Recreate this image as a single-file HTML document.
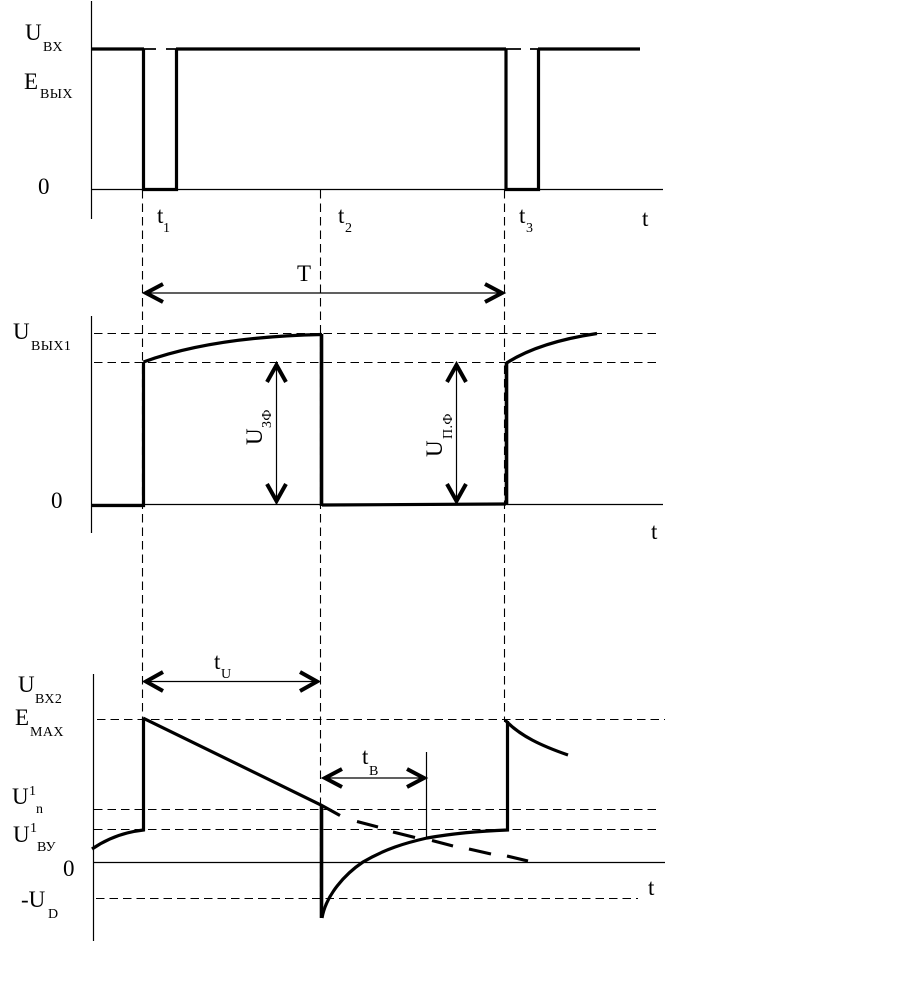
<!DOCTYPE html>
<html>
<head>
<meta charset="utf-8">
<style>
html,body{margin:0;padding:0;background:#fff;width:910px;height:1001px;overflow:hidden}
svg{display:block}
text{font-family:"Liberation Serif",serif;fill:#000}
.b{font-size:23px}
.s{font-size:14px;letter-spacing:.4px}
.ln{stroke:#000;stroke-width:1.2;fill:none}
.d{stroke:#000;stroke-width:1.1;fill:none;stroke-dasharray:8.5 5}
.th{stroke:#000;stroke-width:3.2;fill:none}
.h{stroke:#000;stroke-width:4;fill:none}
</style>
</head>
<body>
<svg width="910" height="1001" viewBox="0 0 910 1001" xmlns="http://www.w3.org/2000/svg">
<!-- axes -->
<path class="ln" d="M91.5 1V219M91 189.5H663M91.5 316V533M91 504.5H663M93.5 674V941M93 862.5H665"/>
<!-- dashed verticals -->
<path class="d" d="M142.5 190V720M320.5 190V905M504.5 190V722"/>
<!-- dashed horizontals -->
<path class="d" d="M94 333.5H661M94 362.5H661M97 719.5H665M94 809.5H661M94 829.5H661M96 898.5H638"/>
<!-- top pulse -->
<path class="th" d="M91 49H144M176 49H506M538 49H640"/>
<path stroke="#000" stroke-width="1.8" fill="none" d="M144 49H156M166 49H176M506 49H521M530 49H538"/>
<path class="th" d="M143.5 49V189.5H176.5V49M506 49V189.5H538.5V49"/>
<!-- middle waveform -->
<path class="th" d="M92 505.5H143.5V362M322 505L506 504"/>
<path class="th" d="M143.5 362C190 345 250 336 322 334.5"/>
<path stroke="#000" stroke-width="3.6" fill="none" d="M321.5 334V506M506.5 505V363"/>
<path class="th" d="M506.500 363C530 348 560 339 597 333.500"/>
<!-- bottom waveform -->
<path class="th" d="M92 849C108 838 125 832 143.500 830V718"/>
<path class="th" d="M143 718L321 805L340 815.500"/>
<path class="th" d="M357 821.500L378 827M393 832L415 837.500M432 840.500L453 846M469 849L491 854M507 856L528 861"/>
<path stroke="#000" stroke-width="3.600" fill="none" d="M321.500 806V918"/>
<path class="th" d="M322 918C326 895 345 874 363 862C385 849 405 843 427 838C450 834 480 831 507.500 830V721"/>
<path class="th" d="M505 720C520 736 542 746 568 755"/>
<!-- T arrow -->
<path class="ln" d="M146 293H501"/>
<path class="h" d="M163 284L146 293L163 302M485 284L502 293L485 302"/>
<!-- Uзф arrow -->
<path class="ln" d="M276.500 364V502"/>
<path class="h" d="M267 382L276.500 365L286 382M267 484L276.500 501L286 484"/>
<!-- Uпф arrow -->
<path class="ln" d="M456.500 364V502"/>
<path class="h" d="M447 382L456.500 365L466 382M447 484L456.500 501L466 484"/>
<!-- tU arrow -->
<path class="ln" d="M146 681.500H317"/>
<path class="h" d="M163 672L146 681.500L163 691M300 672L317 681.500L300 691"/>
<!-- tB arrow -->
<path class="ln" d="M323 778H426M426.500 752V838"/>
<path class="h" d="M342 769L325 778L342 787M407 769L424 778L407 787"/>
<!-- labels -->
<text class="b" x="25" y="40">U</text>
<text class="s" x="43" y="51">ВХ</text>
<text class="b" x="24" y="89">E</text>
<text class="s" x="40" y="98">ВЫХ</text>
<text class="b" x="38" y="194">0</text>
<text class="b" x="157" y="223">t</text>
<text class="s" x="163" y="232">1</text>
<text class="b" x="338" y="223">t</text>
<text class="s" x="345" y="232">2</text>
<text class="b" x="519" y="223">t</text>
<text class="s" x="526" y="232">3</text>
<text class="b" x="642" y="226">t</text>
<text class="b" x="297" y="281">T</text>
<text class="b" x="13" y="339">U</text>
<text class="s" x="31" y="350">ВЫХ1</text>
<text class="b" x="51" y="508">0</text>
<text class="b" x="651" y="539">t</text>
<text class="b" transform="translate(262,445) rotate(-90)">U</text>
<text class="s" transform="translate(271,428) rotate(-90)">ЗФ</text>
<text class="b" transform="translate(442,457) rotate(-90)">U</text>
<text class="s" transform="translate(452,439) rotate(-90)">П.Ф</text>
<text class="b" x="214" y="669">t</text>
<text class="s" x="221" y="678">U</text>
<text class="b" x="18" y="692">U</text>
<text class="s" x="35" y="703">ВХ2</text>
<text class="b" x="15" y="725">E</text>
<text class="s" x="30" y="736">MAX</text>
<text class="b" x="12" y="804">U</text>
<text class="s" x="29" y="795">1</text>
<text class="s" x="36" y="813">n</text>
<text class="b" x="13" y="842">U</text>
<text class="s" x="30" y="832">1</text>
<text class="s" x="37" y="851">ВУ</text>
<text class="b" x="63" y="876">0</text>
<text class="b" x="21" y="907">-U</text>
<text class="s" x="48" y="918">D</text>
<text class="b" x="362" y="764">t</text>
<text class="s" x="369" y="775">B</text>
<text class="b" x="648" y="895">t</text>
</svg>
</body>
</html>
